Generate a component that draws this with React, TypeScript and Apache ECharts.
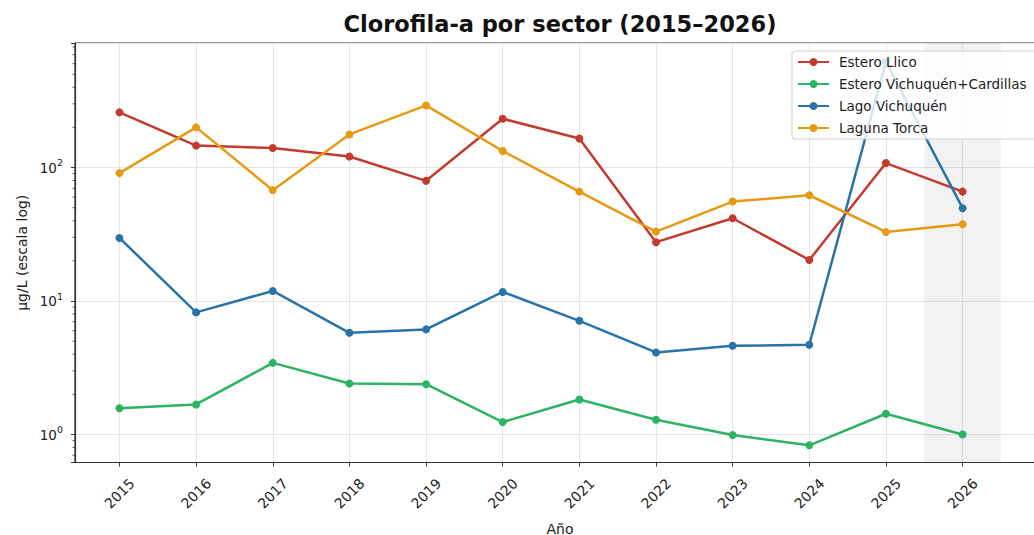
import React, { useEffect, useRef } from "react";
import * as echarts from "echarts";

const years = [2015, 2016, 2017, 2018, 2019, 2020, 2021, 2022, 2023, 2024, 2025, 2026];
const seriesNames = ["Estero Llico", "Estero Vichuquén+Cardillas", "Lago Vichuquén", "Laguna Torca"];
const esteroLlico = [259, 146, 140, 121, 79.5, 232, 165, 27.6, 41.7, 20.3, 108, 66];
const esteroVichCard = [1.575, 1.68, 3.44, 2.41, 2.38, 1.24, 1.83, 1.29, 0.99, 0.83, 1.43, 1.0];
const lagoVichuquen = [29.7, 8.22, 11.9, 5.78, 6.13, 11.7, 7.11, 4.12, 4.62, 4.7, 620, 49.6];
const lagunaTorca = [90.8, 200, 67.7, 177, 292, 133, 66, 33.1, 55.6, 62, 32.9, 37.6];
const colors = ["#c23b2e", "#2db364", "#2a73a8", "#e59a14"];
const projectionSpan = [2025.5, 2026.5];

const xMin = 2014.42;
const xMax = 2027.075;
const yMin = 0.617;
const yMax = 857;

const FONT = "DejaVu Sans";

export default function App() {
  const ref = useRef<HTMLDivElement>(null);
  useEffect(() => {
    if (!ref.current) return;
    const chart = echarts.init(ref.current, null, { renderer: "svg" });
    const allData = [esteroLlico, esteroVichCard, lagoVichuquen, lagunaTorca];

    const minorTicks: number[] = [];
    for (let e = -1; e <= 2; e++) {
      for (let m = 2; m <= 9; m++) {
        const v = m * Math.pow(10, e);
        if (v > yMin && v < yMax) minorTicks.push(v);
      }
    }

    const series: any[] = allData.map((vals, i) => ({
      name: seriesNames[i],
      type: "line",
      data: years.map((y, j) => [y, vals[j]]),
      symbol: "circle",
      symbolSize: 8,
      lineStyle: { width: 2.5, color: colors[i] },
      itemStyle: { color: colors[i] },
      z: 3 + i,
      markArea:
        i === 0
          ? {
              silent: true,
              itemStyle: { color: "rgba(0,0,0,0.05)" },
              data: [[{ xAxis: projectionSpan[0] }, { xAxis: projectionSpan[1] }]],
            }
          : undefined,
    }));
    series.push({
      type: "custom",
      silent: true,
      z: 10,
      data: minorTicks.map((v) => [xMin, v]),
      renderItem: (params: any, api: any) => {
        const p = api.coord([api.value(0), api.value(1)]);
        return {
          type: "line",
          shape: { x1: p[0] - 2.5, y1: p[1], x2: p[0], y2: p[1] },
          style: { stroke: "#333", lineWidth: 0.8 },
        };
      },
    });

    chart.setOption({
      animation: false,
      textStyle: { fontFamily: FONT },
      title: {
        text: "Clorofila-a por sector (2015–2026)",
        left: 555,
        top: 7,
        textAlign: "center",
        textStyle: { fontFamily: FONT, fontSize: 22.5, fontWeight: "bold", color: "#111" },
      },
      legend: {
        data: seriesNames,
        orient: "vertical",
        left: 792,
        top: 51,
        z: 20,
        itemWidth: 31,
        itemHeight: 10,
        itemGap: 8,
        padding: [4, 40, 4, 5],
        backgroundColor: "rgba(255,255,255,0.8)",
        borderColor: "#d0d0d0",
        borderWidth: 1,
        borderRadius: 3,
        textStyle: { fontFamily: FONT, fontSize: 13.5, color: "#222", lineHeight: 14, padding: [0, 0, 0, 5] },
      },
      grid: {
        left: 75,
        right: -11,
        top: 43,
        bottom: 72.5,
        show: true,
        borderColor: "#333",
        borderWidth: 1.2,
        backgroundColor: "transparent",
        containLabel: false,
        outerBoundsMode: "none",
      },
      xAxis: {
        type: "value",
        min: xMin,
        max: xMax,
        name: "Año",
        nameLocation: "middle",
        nameGap: 59,
        nameTextStyle: { fontFamily: FONT, fontSize: 14, color: "#222" },
        axisLine: { show: true, lineStyle: { color: "#333", width: 1.2 } },
        axisTick: { show: true, length: 4, lineStyle: { color: "#333" }, customValues: years },
        axisLabel: {
          customValues: years,
          rotate: 45,
          align: "center",
          verticalAlign: "middle",
          margin: 31,
          fontFamily: FONT,
          fontSize: 14,
          color: "#222",
          formatter: (v: number) => String(Math.round(v)),
        },
        splitLine: { show: true, lineStyle: { color: "#e5e5e5", width: 1 } },
      },
      yAxis: {
        type: "log",
        logBase: 10,
        min: yMin,
        max: yMax,
        splitNumber: 3,
        name: "μg/L (escala log)",
        nameLocation: "middle",
        nameGap: 46,
        nameTextStyle: { fontFamily: FONT, fontSize: 14, color: "#222" },
        axisLine: { show: true, lineStyle: { color: "#333", width: 1.2 } },
        axisTick: { show: true, length: 4, lineStyle: { color: "#333" } },
        axisLabel: {
          margin: 12,
          fontFamily: FONT,
          color: "#222",
          formatter: (v: number) => {
            const l = Math.log10(v);
            const r = Math.round(l);
            if (Math.abs(l - r) < 1e-3) return "{b|10}{s|" + r + "}";
            return "";
          },
          rich: {
            b: { fontFamily: FONT, fontSize: 13.5, lineHeight: 20, color: "#222" },
            s: { fontFamily: FONT, fontSize: 9.5, lineHeight: 10, verticalAlign: "top", color: "#222" },
          },
        },
        splitLine: { show: true, lineStyle: { color: "#e5e5e5", width: 1 } },
      },
      series,
    });
    return () => chart.dispose();
  }, []);
  return (
    <div
      ref={ref}
      style={{ position: "absolute", left: 0, top: 0, width: 1034, height: 535, background: "#fff" }}
    />
  );
}
